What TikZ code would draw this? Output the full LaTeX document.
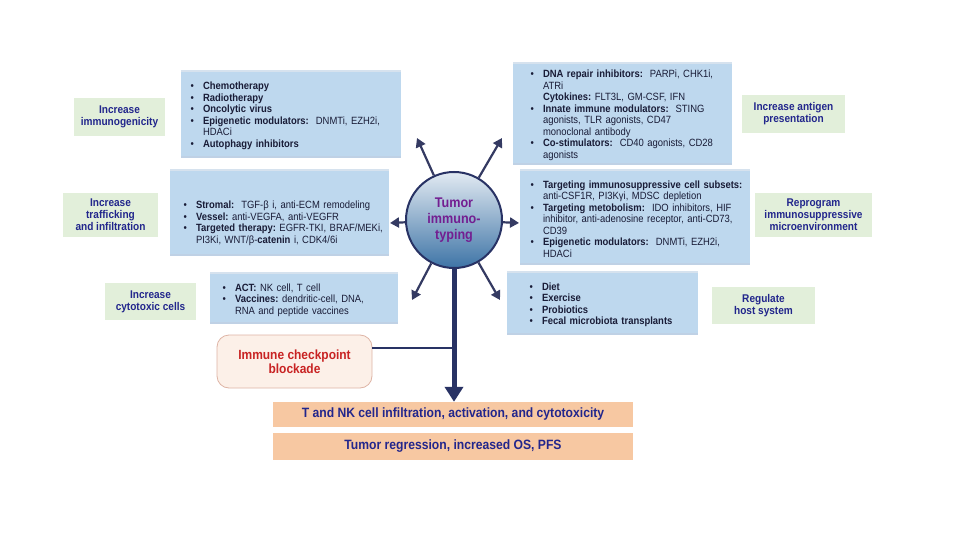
\documentclass[tikz,border=0pt]{standalone}
\usepackage{fontspec}
\setmainfont{Liberation Sans}[FakeStretch=0.9]
\usetikzlibrary{positioning, arrows.meta, calc, shadows}
\definecolor{tiblue}{RGB}{190,216,238}
\definecolor{tishadow}{RGB}{95,140,190}
\definecolor{tigreen}{RGB}{226,239,218}
\definecolor{tinavy}{RGB}{34,38,140}
\definecolor{tiink}{RGB}{25,28,55}
\definecolor{tiarrow}{RGB}{52,58,98}
\definecolor{timain}{RGB}{40,50,100}
\definecolor{tipurple}{RGB}{115,30,145}
\definecolor{tipeach}{RGB}{247,200,162}
\definecolor{ticream}{RGB}{252,240,232}
\definecolor{tired}{RGB}{200,35,35}
\definecolor{tiredline}{RGB}{222,180,165}
\newenvironment{blist}[1]{\begin{list}{\textbullet}{%
    \setlength{\leftmargin}{#1}\setlength{\labelwidth}{6pt}%
    \setlength{\labelsep}{9pt}\setlength{\rightmargin}{2pt}%
    \setlength{\itemsep}{0pt}\setlength{\parsep}{0pt}%
    \setlength{\topsep}{0pt}\setlength{\partopsep}{0pt}}}{\end{list}}

\begin{document}
\begin{tikzpicture}[x=1pt, y=-1pt,
        bluebox/.style={rectangle, fill=tiblue, text=tiink, inner xsep=0pt, inner ysep=2pt, align=left,
            font=\fontsize{10.5}{11.5}\selectfont,
            drop shadow={shadow xshift=0pt, shadow yshift=-2pt, opacity=.4, fill=tishadow},
            drop shadow={shadow xshift=0pt, shadow yshift=2pt, opacity=.25, fill=tishadow}},
        goal/.style={rectangle, fill=tigreen, text=tinavy, align=center, inner sep=0pt,
            font=\fontsize{11.2}{12}\selectfont\bfseries},
        outcome/.style={rectangle, fill=tipeach, text=tinavy, minimum width=360pt, inner sep=0pt,
            font=\fontsize{13.5}{15}\selectfont\bfseries},
        spoke/.style={draw=tiarrow, line width=2.2pt, -{Triangle[length=9pt,width=10pt]}}]
    \fill[white] (0,0) rectangle (960,540);
    % strategy boxes
    \node[bluebox, text width=220pt, minimum height=84pt] (chemo) at (291,114) {\begin{blist}{22pt}
        \item \textbf{Chemotherapy}
        \item \textbf{Radiotherapy}
        \item \textbf{Oncolytic virus}
        \item \textbf{Epigenetic modulators:}\ \ DNMTi, EZH2i,\newline HDACi
        \item \textbf{Autophagy inhibitors}
      \end{blist}};
    \node[bluebox, text width=219pt, minimum height=93pt] (dnarep) at (622.5,113.5) {\begin{blist}{30pt}
        \item \textbf{DNA repair inhibitors:}\ \ PARPi, CHK1i,\newline ATRi
        \item[] \textbf{Cytokines:}\ FLT3L, GM-CSF, IFN
        \item \textbf{Innate immune modulators:}\ \ STING\newline agonists, TLR agonists, CD47\newline monoclonal antibody
        \item \textbf{Co-stimulators:}\ \ CD40 agonists, CD28\newline agonists
      \end{blist}};
    \node[bluebox, text width=219pt, minimum height=83pt] (stromal) at (279.5,212.5) {\begin{blist}{26pt}
        \item \rule{0pt}{28pt}\textbf{Stromal:}\ \ TGF-β i, anti-ECM remodeling
        \item \textbf{Vessel:}\ anti-VEGFA, anti-VEGFR
        \item \textbf{Targeted therapy:}\ EGFR-TKI,~BRAF/MEKi,\newline PI3Ki, WNT/β-\textbf{catenin} i, CDK4/6i
      \end{blist}};
    \node[bluebox, text width=230pt, minimum height=92pt] (metab) at (635,217) {\begin{blist}{23pt}
        \item \textbf{Targeting immunosuppressive cell subsets:}\newline anti-CSF1R, PI3Kγi, MDSC depletion
        \item \textbf{Targeting metobolism:}\ \ IDO inhibitors, HIF\newline inhibitor, anti-adenosine receptor, anti-CD73,\newline CD39
        \item \textbf{Epigenetic modulators:}\ \ DNMTi, EZH2i,\newline HDACi
      \end{blist}};
    \node[bluebox, text width=188pt, minimum height=48pt] (act) at (304,298) {\begin{blist}{25pt}
        \item \textbf{ACT:}\ NK cell, T cell
        \item \textbf{Vaccines:}\ dendritic-cell, DNA,\newline RNA and peptide vaccines
      \end{blist}};
    \node[bluebox, text width=191pt, minimum height=60pt] (diet) at (602.5,303) {\begin{blist}{35pt}
        \item \textbf{Diet}
        \item \textbf{Exercise}
        \item \textbf{Probiotics}
        \item \textbf{Fecal microbiota transplants}
      \end{blist}};
    % goals
    \node[goal, minimum width=91pt, minimum height=38pt] (immunogen) at (119.5,117) {Increase\\immunogenicity};
    \node[goal, minimum width=95pt, minimum height=44pt] (traffick) at (110.5,215) {Increase\\trafficking\\and infiltration};
    \node[goal, minimum width=91pt, minimum height=37pt] (cytotox) at (150.5,301.5) {Increase\\cytotoxic cells};
    \node[goal, minimum width=103pt, minimum height=38pt] (antigen) at (793.5,114) {Increase antigen\\presentation};
    \node[goal, minimum width=117pt, minimum height=44pt] (reprogram) at (813.5,215) {Reprogram\\immunosuppressive\\microenvironment};
    \node[goal, minimum width=103pt, minimum height=37pt] (hostsys) at (763.5,305.5) {Regulate\\host system};
    % centre
    \node[circle, minimum size=96pt, inner sep=0pt, draw=timain, line width=2pt,
        top color={rgb,255:red,226;green,234;blue,242}, middle color={rgb,255:red,178;green,205;blue,228},
        bottom color={rgb,255:red,62;green,116;blue,166},
        text=tipurple, align=center, font=\fontsize{14}{16}\selectfont\bfseries] (tumor) at (454,220) {Tumor\\immuno-\\typing};
    \coordinate (ul) at (417,138);
    \coordinate (ur) at (502,138);
    \coordinate (lf) at (390,223);
    \coordinate (rt) at (519,223);
    \coordinate (ll) at (412,300);
    \coordinate (lr) at (500,300);
    \foreach \t in {ul, ur, lf, rt, ll, lr}
        \draw[spoke] (tumor) -- (\t);
    % outcomes
    \node[rounded corners=12pt, fill=ticream, draw=tiredline, line width=.8pt, minimum width=155pt,
        minimum height=53pt, text=tired, align=center, font=\fontsize{13.3}{14.5}\selectfont\bfseries]
        (icb) at (294.5,361.5) {Immune checkpoint\\blockade};
    \node[outcome, minimum height=25pt] (tnk) at (453,414.5) {T and NK cell infiltration, activation, and cytotoxicity};
    \node[outcome, minimum height=27pt] (regress) at (453,446.5) {Tumor regression, increased OS, PFS};
    \coordinate (join) at (454,348);
    \draw[draw=timain, line width=2pt] (icb.east |- join) -- (join);
    \draw[draw=timain, line width=5pt, -{Triangle[length=15pt,width=18pt]}] (tumor.south) -- (tumor.south |- tnk.north);
\end{tikzpicture}
\end{document}
